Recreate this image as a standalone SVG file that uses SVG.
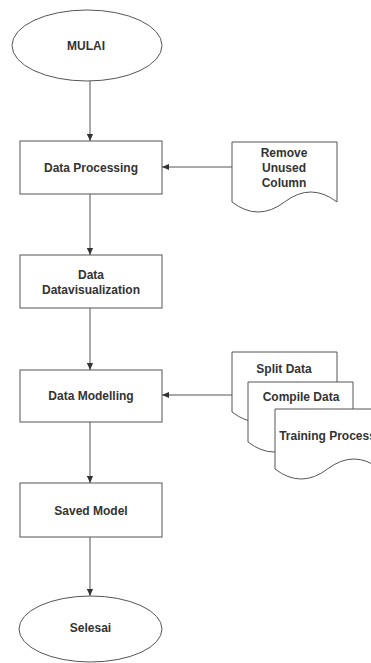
<svg xmlns="http://www.w3.org/2000/svg" width="371" height="663" viewBox="0 0 371 663">
<defs>
<style>
.s{fill:#fff;stroke:#555;stroke-width:1}
.t{font-family:"Liberation Sans",Arial,sans-serif;font-weight:bold;font-size:12px;fill:#333;text-anchor:middle;dominant-baseline:central}
.c{fill:none;stroke:#555;stroke-width:1}
</style>
<marker id="a" viewBox="0 0 8 8" refX="8" refY="4" markerWidth="7" markerHeight="7" orient="auto" markerUnits="userSpaceOnUse">
<path d="M0,0.5 L8,4 L0,7.5 Z" fill="#333"/>
</marker>
</defs>
<rect width="371" height="663" fill="#fff"/>
<g id="connectors">
<path class="c" d="M90,81 V141" marker-end="url(#a)"/>
<path class="c" d="M232,167 H162" marker-end="url(#a)"/>
<path class="c" d="M90,194 V255" marker-end="url(#a)"/>
<path class="c" d="M90,308 V370" marker-end="url(#a)"/>
<path class="c" d="M232,395 H162" marker-end="url(#a)"/>
<path class="c" d="M90,422 V483" marker-end="url(#a)"/>
<path class="c" d="M90,537 V596" marker-end="url(#a)"/>
</g>
<g id="mulai">
<ellipse class="s" cx="87" cy="45.5" rx="75" ry="35.5"/>
<text class="t" x="86" y="45.5">MULAI</text>
</g>
<g id="data-processing">
<rect class="s" x="20" y="141" width="142" height="53"/>
<text class="t" x="91" y="168">Data Processing</text>
</g>
<g id="remove-unused-column">
<path class="s" d="M232,142 H337 V202 Q311,182 284.5,202 T232,202 Z"/>
<text class="t" x="284" y="153">Remove</text>
<text class="t" x="284" y="168">Unused</text>
<text class="t" x="284" y="183">Column</text>
</g>
<g id="data-datavisualization">
<rect class="s" x="20" y="255" width="142" height="53"/>
<text class="t" x="91" y="275">Data</text>
<text class="t" x="91" y="290">Datavisualization</text>
</g>
<g id="data-modelling">
<rect class="s" x="20" y="370" width="142" height="52"/>
<text class="t" x="91" y="396">Data Modelling</text>
</g>
<g id="split-data">
<path class="s" d="M232,352 H337 V412 Q311,392 284.5,412 T232,412 Z"/>
<text class="t" x="284" y="369">Split Data</text>
</g>
<g id="compile-data">
<path class="s" d="M248,382 H353 V442 Q327,422 300.5,442 T248,442 Z"/>
<text class="t" x="301" y="397">Compile Data</text>
</g>
<g id="training-process">
<path class="s" d="M275,409 H380 V469 Q354,449 327.5,469 T275,469 Z"/>
<text class="t" x="327.5" y="436">Training Process</text>
</g>
<g id="saved-model">
<rect class="s" x="20" y="483" width="142" height="54"/>
<text class="t" x="91" y="511">Saved Model</text>
</g>
<g id="selesai">
<ellipse class="s" cx="90.5" cy="629" rx="71.5" ry="33"/>
<text class="t" x="90.5" y="628">Selesai</text>
</g>
</svg>
